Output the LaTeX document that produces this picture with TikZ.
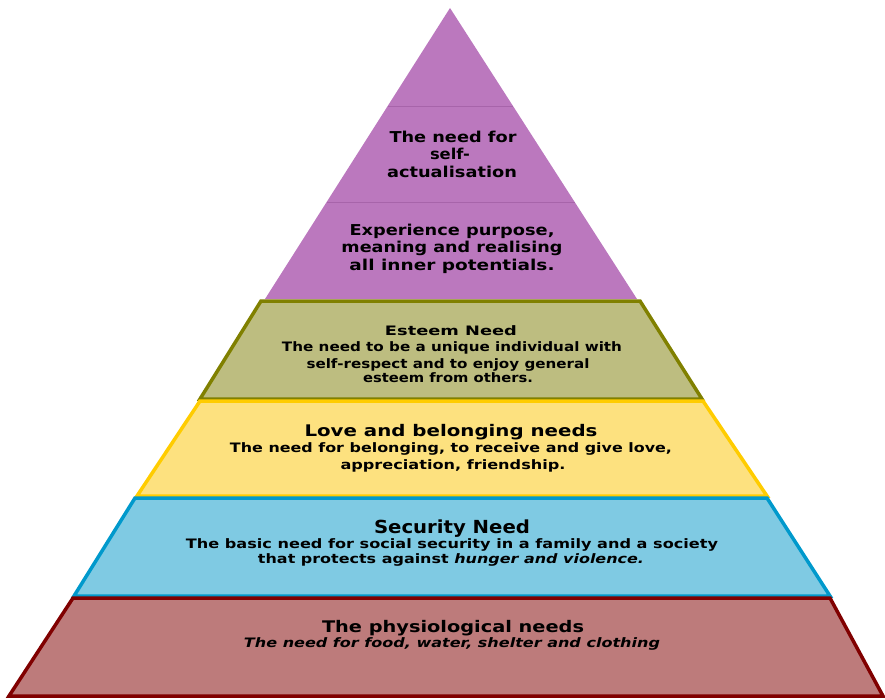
\documentclass[tikz,border=0pt]{standalone}
\usepackage{fontspec}
\setmainfont{DejaVu Sans}
\usepackage{graphicx}
\usetikzlibrary{calc}
\newcommand\fitw[2]{\resizebox{#1pt}{\height}{#2}}
\definecolor{pfill}{HTML}{BB78BE}
\definecolor{pline}{HTML}{A764AA}
\definecolor{ofill}{HTML}{BDBD80}
\definecolor{oline}{HTML}{808000}
\definecolor{yfill}{HTML}{FDE17F}
\definecolor{yline}{HTML}{FFCC00}
\definecolor{bfill}{HTML}{7FCAE3}
\definecolor{bline}{HTML}{0099CC}
\definecolor{rfill}{HTML}{BD7B7B}
\definecolor{rline}{HTML}{800000}
\begin{document}
\begin{tikzpicture}[x=1pt,y=-1pt,
  band/.style={line width=3.5pt, line join=miter},
  body/.style={inner sep=0pt, anchor=base, text=black, font=\bfseries\fontsize{13}{15}\selectfont},
  bodyi/.style={body, font=\bfseries\itshape\fontsize{13}{15}\selectfont},
  head/.style={body, font=\bfseries\fontsize{#1}{#1}\selectfont}]
\useasboundingbox (0,0) rectangle (885,700);
% coordinates
\coordinate (apex) at (450,8);
\coordinate (pl) at (265,299);
\coordinate (pr) at (637,299);
% self-actualisation triangle
\fill[pfill] (apex) -- (pr) -- (pl) -- cycle;
\draw[pline, line width=0.8pt] ($(apex)!0.3368!(pl)$) -- ($(apex)!0.3368!(pr)$);
\draw[pline, line width=0.8pt] ($(apex)!0.6667!(pl)$) -- ($(apex)!0.6667!(pr)$);
% esteem
\draw[band, draw=oline, fill=ofill] (261,301) -- (640,301) -- (702,399) -- (200,399) -- cycle;
% love
\draw[band, draw=yline, fill=yfill] (200,401) -- (703,401) -- (767,496) -- (137,496) -- cycle;
% security
\draw[band, draw=bline, fill=bfill] (135,498) -- (767,498) -- (830,596) -- (74,596) -- cycle;
% physiological
\draw[band, draw=rline, fill=rfill] (73,598) -- (830,598) -- (883,696) -- (9,696) -- cycle;
% texts: purple
\node[head=15] (sa1) at (453,142.5) {\fitw{127}{The need for}};
\node[head=15] (sa2) at (450,159.5) {\fitw{40}{self-}};
\node[head=15] (sa3) at (452,177.5) {\fitw{130}{actualisation}};
\node[head=15] (sb1) at (452,235.5) {\fitw{205}{Experience purpose,}};
\node[head=15] (sb2) at (452,252.5) {\fitw{221}{meaning and realising}};
\node[head=15] (sb3) at (452,270.5) {\fitw{205}{all inner potentials.}};
% esteem
\node[body] (es0) at (451,335.5) {\fitw{132}{Esteem Need}};
\node[body] (es1) at (452,351.5) {\fitw{340}{The need to be a unique individual with}};
\node[body] (es2) at (448,368.5) {\fitw{283}{self-respect and to enjoy general}};
\node[body] (es3) at (448,382.5) {\fitw{170}{esteem from others.}};
% love
\node[head=16] (lv0) at (451,436.5) {\fitw{293}{Love and belonging needs}};
\node[body] (lv1) at (451,452.5) {\fitw{442}{The need for belonging, to receive and give love,}};
\node[body] (lv2) at (453,469.5) {\fitw{225}{appreciation, friendship.}};
% security
\node[head=18] (sc0) at (452,533.5) {\fitw{156}{Security Need}};
\node[body] (sc1) at (452,548.5) {\fitw{532}{The basic need for social security in a family and a society}};
\node[body] (sc2) at (451,563.5) {\fitw{386}{that protects against \textit{hunger and violence.}}};
% physiological
\node[head=16] (ph0) at (453,632.5) {\fitw{262}{The physiological needs}};
\node[bodyi] (ph1) at (452,647.5) {\fitw{416}{The need for food, water, shelter and clothing}};
\end{tikzpicture}
\end{document}
